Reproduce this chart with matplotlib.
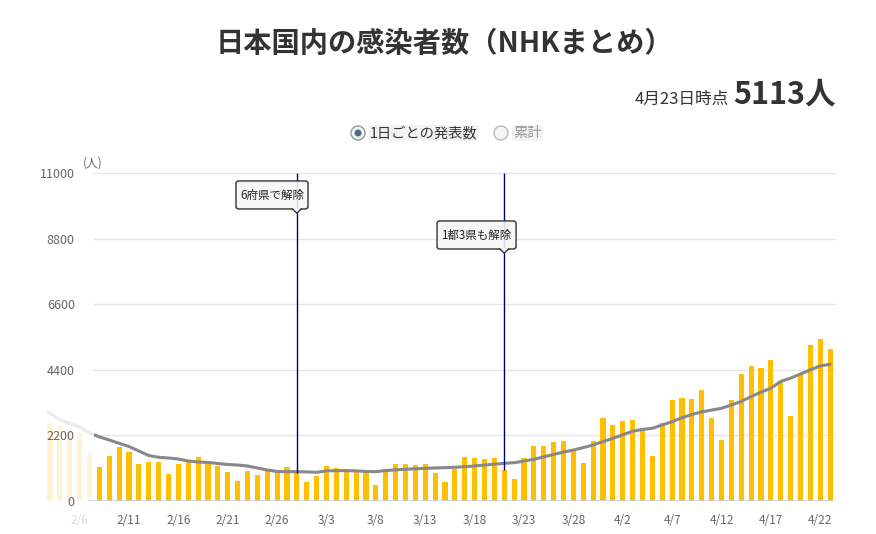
import numpy as np
import pandas as pd
import matplotlib
matplotlib.use("Agg")
import matplotlib.pyplot as plt
from matplotlib.patches import FancyBboxPatch, Polygon, Ellipse, Rectangle

plt.rcParams['font.family'] = ['Noto Sans CJK JP', 'DejaVu Sans']

# daily counts, 2/3 .. 4/23
start = pd.Timestamp("2021-02-03")
daily = [2583, 2526, 2400, 2270, 1576, 1145, 1509, 1816, 1655, 1252,
         1319, 1319, 917, 1252, 1380, 1487, 1252, 1185, 984, 682,
         1017, 883, 1017, 1000, 1151, 950, 645, 849, 1185, 1110,
         1078, 984, 984, 548, 1078, 1245, 1245, 1219, 1252, 950,
         648, 1084, 1487, 1442, 1420, 1442, 1040, 738, 1442, 1856,
         1850, 1979, 2012, 1688, 1275, 2012, 2784, 2549, 2683, 2717,
         2381, 1509, 2616, 3388, 3455, 3421, 3723, 2784, 2046, 3388,
         4260, 4528, 4461, 4729, 4025, 2851, 4293, 5232, 5433, 5113]

# 7-day average, 2/2 .. 4/23
avg7 = [3100, 2950, 2720, 2600, 2480, 2280, 2150, 2046, 1935, 1828,
        1677, 1526, 1466, 1442, 1409, 1342, 1308, 1291, 1258, 1224,
        1207, 1174, 1107, 1040, 990, 984, 984, 975, 962, 1010,
        1017, 1017, 1010, 990, 984, 1020, 1045, 1065, 1080, 1097,
        1108, 1118, 1130, 1152, 1174, 1205, 1235, 1264, 1285, 1340,
        1398, 1480, 1560, 1640, 1710, 1790, 1878, 1990, 2102, 2220,
        2340, 2400, 2438, 2550, 2661, 2790, 2900, 2990, 3050, 3109,
        3220, 3340, 3500, 3650, 3780, 4010, 4120, 4260, 4400, 4528, 4585]

yticks = [0, 2200, 4400, 6600, 8800, 11000]
events = [("2021-02-28", "6府県で解除"), ("2021-03-21", "1都3県も解除")]
as_of = "4月23日時点"
latest = "5113人"

dates = pd.date_range(start, periods=len(daily))
x = np.arange(len(daily))
x_avg = np.arange(-1, len(avg7) - 1)

W, H = 876, 534
fig = plt.figure(figsize=(W / 100, H / 100), dpi=100)
ax = fig.add_axes([47 / W, 1 - 501 / H, 789 / W, 328 / H])
ax.set_xlim(-0.3, 79.6)
ax.set_ylim(0, 11000)
ax.set_axisbelow(False)
for s in ax.spines.values():
    s.set_visible(False)

grid_x0 = 3.85
ax.hlines(yticks[1:], grid_x0, 79.6, color='#e6e6e6', lw=1, zorder=0.5)
ax.hlines(0, grid_x0, 79.6, color='#ccd6eb', lw=1.2, zorder=3)

ax.bar(x, daily, width=0.52, color='#ffbe00', zorder=1)
ax.plot(x_avg, avg7, color='#888888', lw=2.2, zorder=2, solid_capstyle='round')

# faded left part
ax.add_patch(Rectangle((-0.3, 0), 4.75, 11000, fc='white', ec='none',
                       alpha=0.84, zorder=2.2))

# y labels drawn inside
ax.set_yticks(yticks)
ax.set_yticklabels([str(v) for v in yticks])
ax.tick_params(axis='y', length=0, pad=-20, labelsize=9, labelcolor='#666666')

tick_idx = list(range(3, len(daily), 5))
ax.set_xticks(tick_idx)
ax.set_xticklabels([f"{dates[i].month}/{dates[i].day}" for i in tick_idx])
ax.tick_params(axis='x', length=0, pad=9, labelsize=8.5, labelcolor='#666666')
ax.get_xticklabels()[0].set_color('#dddddd')

# event lines + callouts
box_layout = [(18.84, 26.13, 9794, 10733), (39.2, 47.2, 8452, 9391)]
for (d, label), (bx0, bx1, by0, by1) in zip(events, box_layout):
    i = (pd.Timestamp(d) - start).days
    ax.vlines(i, daily[i], 11000, color='#000080', lw=1, zorder=3)
    box = FancyBboxPatch((bx0, by0), bx1 - bx0, by1 - by0,
                         boxstyle='round,pad=0,rounding_size=0.25',
                         mutation_aspect=331, fc=(0.97, 0.97, 0.97, 0.88),
                         ec='#333333', lw=1, zorder=4)
    ax.add_patch(box)
    tip = by0 - 140
    ax.add_patch(Polygon([(i - 0.45, by0 + 30), (i, tip), (i + 0.45, by0 + 30)],
                         closed=True, fc='#f7f7f7', ec='none', zorder=4.5))
    ax.plot([i - 0.45, i, i + 0.45], [by0, tip, by0], color='#333333', lw=1,
            zorder=4.6)
    ax.text((bx0 + bx1) / 2, (by0 + by1) / 2, label, ha='center', va='center',
            fontsize=8.3, color='#222222', zorder=5)

ax.text(4.3, 11000 + 330, "(人)", fontsize=8.5, color='#666666', ha='center',
        va='center', clip_on=False)

# header
fig.text(444 / W, 1 - 44 / H, "日本国内の感染者数（NHKまとめ）", ha='center',
         va='center', fontsize=20.3, fontweight='bold', color='#333333')
fig.text(836 / W, 1 - 104 / H, latest, ha='right', va='baseline',
         fontsize=22, fontweight='bold', color='#333333')
fig.text(729 / W, 1 - 104 / H, as_of, ha='right', va='baseline',
         fontsize=12, color='#333333')

# legend radio buttons
fig.add_artist(Ellipse((358 / W, 1 - 133 / H), 14 / W, 14 / H,
                       transform=fig.transFigure, fc='#f4f4f4', ec='#999999', lw=1))
fig.add_artist(Ellipse((358 / W, 1 - 133 / H), 7 / W, 7 / H,
                       transform=fig.transFigure, fc='#4d6b8a', ec='none'))
fig.add_artist(Ellipse((501 / W, 1 - 133 / H), 14 / W, 14 / H,
                       transform=fig.transFigure, fc='#f4f4f4', ec='#bbbbbb', lw=1))
fig.text(370 / W, 1 - 133 / H, "1日ごとの発表数", ha='left', va='center',
         fontsize=10.3, color='#333333',
         bbox=dict(fc='#f3f3f3', ec='none', pad=1))
fig.text(513 / W, 1 - 133 / H, "累計", ha='left', va='center',
         fontsize=10.3, color='#999999',
         bbox=dict(fc='#f3f3f3', ec='none', pad=1))

fig.savefig("out.png", dpi=100)
